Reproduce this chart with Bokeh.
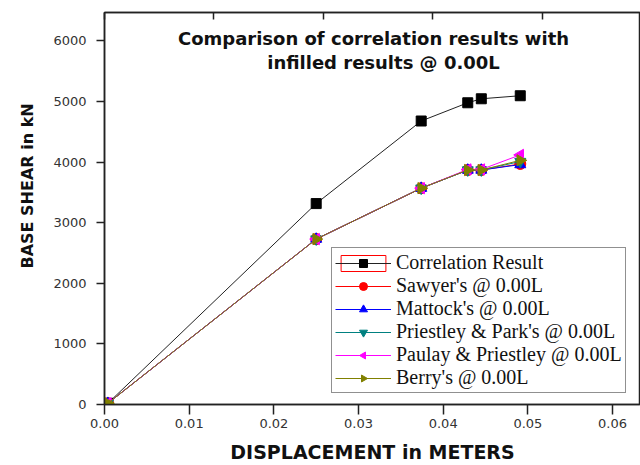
import math

from bokeh.embed import file_html
from bokeh.models import (CustomJSTickFormatter, Label, Legend, LegendItem,
                          LinearAxis, Range1d, SingleIntervalTicker, Title)
from bokeh.plotting import figure
from bokeh.resources import INLINE

# Displacement (m) at each load step
disp = [0.0004, 0.025, 0.0374, 0.0429, 0.0445, 0.0491]

# Base shear (kN) for each method
correlation = [20, 3316, 4679, 4980, 5046, 5096]
sawyer = [20, 2730, 3570, 3870, 3870, 3970]
mattock = [20, 2730, 3570, 3870, 3870, 3960]
priestley_park = [20, 2730, 3570, 3870, 3870, 4010]
paulay_priestley = [20, 2730, 3570, 3880, 3880, 4120]
berry = [20, 2730, 3570, 3870, 3870, 4030]

x_ticks = [0.00, 0.01, 0.02, 0.03, 0.04, 0.05, 0.06]
y_ticks = [0, 1000, 2000, 3000, 4000, 5000, 6000]

p = figure(width=640, height=465, output_backend="svg", toolbar_location=None,
           x_range=Range1d(0, 0.0633), y_range=Range1d(0, 6470),
           x_axis_location=None, y_axis_location=None,
           min_border_left=104, min_border_right=0, min_border_top=12,
           min_border_bottom=61)
p.grid.visible = False
p.background_fill_color = "white"
p.border_fill_color = "white"
p.outline_line_color = "#222222"
p.outline_line_width = 1.5

xaxis = LinearAxis(ticker=x_ticks, axis_label="DISPLACEMENT in METERS")
yaxis = LinearAxis(ticker=y_ticks)
for ax in (xaxis, yaxis):
    ax.axis_line_color = "#222222"
    ax.axis_line_width = 1.5
    ax.major_tick_line_color = "#222222"
    ax.major_tick_line_width = 1.5
    ax.major_tick_in = 0
    ax.minor_tick_line_color = None
    ax.major_label_text_font = "DejaVu Sans"
    ax.major_label_text_font_size = "13px"
    ax.major_label_text_color = "#333333"
xaxis.major_tick_out = 10
yaxis.major_tick_out = 8
xaxis.major_label_standoff = 4
yaxis.major_label_standoff = 10
xaxis.formatter = CustomJSTickFormatter(code="return tick.toFixed(2);")
xaxis.axis_label_text_font = "DejaVu Sans"
xaxis.axis_label_text_font_style = "bold"
xaxis.axis_label_text_font_size = "19px"
xaxis.axis_label_text_color = "#111111"
xaxis.axis_label_standoff = 10
p.add_layout(xaxis, "below")
p.add_layout(yaxis, "left")

# Mirror axis on top with inward ticks only
p.extra_x_ranges = {"top": Range1d(0, 0.049)}
top = LinearAxis(x_range_name="top", ticker=SingleIntervalTicker(interval=0.01))
top.axis_line_color = "#222222"
top.axis_line_width = 1.5
top.major_tick_line_color = "#222222"
top.major_tick_line_width = 1.5
top.major_tick_in = 7
top.major_tick_out = 0
top.minor_tick_line_color = None
top.formatter = CustomJSTickFormatter(code="return '';")
top.major_label_text_font_size = "0px"
p.add_layout(top, "above")

# Y axis title, shifted up from the frame bottom
p.add_layout(Title(text="BASE SHEAR in kN", align="left", offset=136,
                   standoff=28, text_font="DejaVu Sans",
                   text_font_style="bold", text_font_size="16px",
                   text_color="#111111"), "left")

# Heading inside the plot area
p.add_layout(Label(x=269, y=366, x_units="screen", y_units="screen",
                   text="Comparison of correlation results with",
                   text_align="center", text_baseline="middle",
                   text_font="DejaVu Sans", text_font_style="bold",
                   text_font_size="18px", text_color="#111111"))
p.add_layout(Label(x=279, y=342, x_units="screen", y_units="screen",
                   text="infilled results @ 0.00L",
                   text_align="center", text_baseline="middle",
                   text_font="DejaVu Sans", text_font_style="bold",
                   text_font_size="18px", text_color="#111111"))

items = []
c_line = p.line(disp, correlation, line_color="#222222", line_width=1)
c_mark = p.scatter(disp, correlation, marker="square", size=10,
                   fill_color="black", line_color="black")
# red frame around the first legend swatch (zero-size in the plot itself)
c_box = p.rect(x=disp[:1], y=correlation[:1], width=0, height=0,
               fill_alpha=0, line_color="#ff0000", line_width=1)
items.append(LegendItem(label="Correlation Result",
                        renderers=[c_box, c_line, c_mark]))

series = [
    ("Sawyer's @ 0.00L", sawyer, "#ff0000", "circle"),
    ("Mattock's @ 0.00L", mattock, "#0000ff", "triangle"),
    ("Priestley & Park's @ 0.00L", priestley_park, "#008080", "inverted_triangle"),
]
for name, vals, color, marker in series:
    ln = p.line(disp, vals, line_color=color, line_width=1)
    mk = p.scatter(disp, vals, marker=marker, size=11,
                   fill_color=color, line_color=color)
    items.append(LegendItem(label=name, renderers=[ln, mk]))

# Sideways triangles: Paulay & Priestley points left, Berry points right
sideways = [
    ("Paulay & Priestley @ 0.00L", paulay_priestley, "#ff00ff", math.pi / 2),
    ("Berry's @ 0.00L", berry, "#808000", -math.pi / 2),
]
for name, vals, color, ang in sideways:
    ln = p.line(disp, vals, line_color=color, line_width=1)
    mk = p.ngon(x=disp, y=vals, radius=6.5, radius_units="screen", n=3,
                angle=ang, fill_color=color, line_color=color)
    items.append(LegendItem(label=name, renderers=[ln, mk]))

legend = Legend(items=items, location=(227, 11))
legend.label_text_font = "Liberation Serif"
legend.label_text_font_size = "20px"
legend.label_text_color = "#111111"
legend.glyph_width = 56
legend.glyph_height = 20
legend.label_height = 20
legend.label_standoff = 5
legend.spacing = 0
legend.padding = 3
legend.margin = 0
legend.border_line_color = "#222222"
legend.border_line_width = 1.5
legend.background_fill_alpha = 1
p.add_layout(legend, "center")

open("out.html", "w").write(file_html(p, INLINE))
